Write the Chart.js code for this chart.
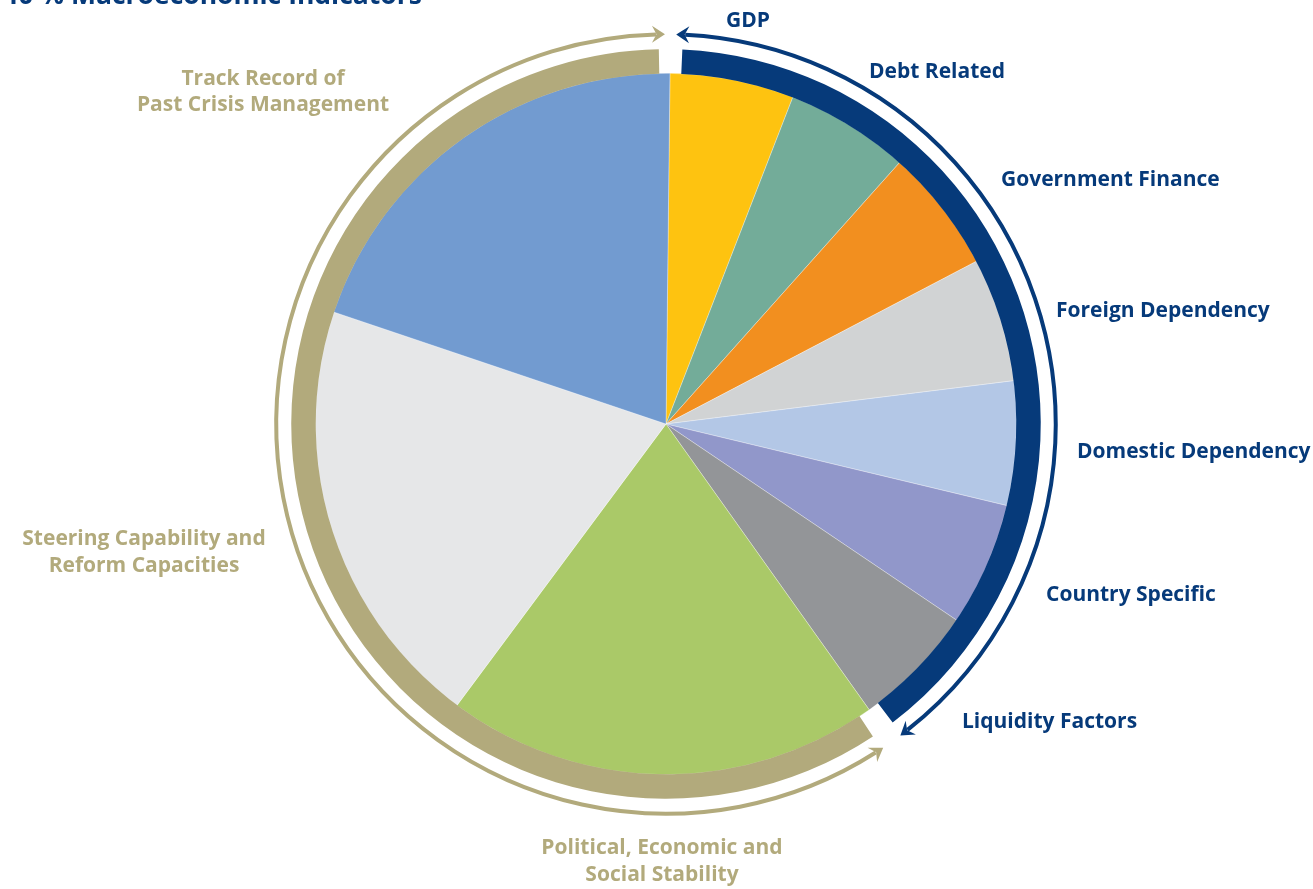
<!DOCTYPE html>
<html>
<head>
<meta charset="utf-8">
<script src="https://cdn.jsdelivr.net/npm/chart.js@4.4.1/dist/chart.umd.min.js"></script>
<style>
  html, body { margin: 0; padding: 0; background: #fff; }
  #wrap { width: 1313px; height: 889px; }
</style>
</head>
<body>
<div id="wrap"><canvas id="pieChart" width="1313" height="889"></canvas></div>
<script>
// ===== DATA =====
const categories = [
  "GDP", "Debt Related", "Government Finance", "Foreign Dependency",
  "Domestic Dependency", "Country Specific", "Liquidity Factors",
  "Political, Economic and Social Stability",
  "Steering Capability and Reform Capacities",
  "Track Record of Past Crisis Management"
];
const weights = [5.71, 5.71, 5.71, 5.71, 5.71, 5.71, 5.71, 20, 20, 20];
const sliceColors = [
  "#fec310", "#73ac99", "#f28f1f", "#d1d3d4", "#b3c7e6",
  "#9197ca", "#939598", "#aac968", "#e6e7e8", "#729bd0"
];
const macroCount = 7; // first 7 slices are the macroeconomic block
const titleText = "40 % Macroeconomic Indicators";

const NAVY = "#063a7a";
const TAN = "#b2aa7c";
const FONT = "bold 21px 'Open Sans', sans-serif";

// label lines + where they sit (x, baseline)
const macroLabels = [
  ["GDP", 726, 26.5],
  ["Debt Related", 869, 77.5],
  ["Government Finance", 1001, 185.5],
  ["Foreign Dependency", 1056, 316.5],
  ["Domestic Dependency", 1077, 458],
  ["Country Specific", 1046, 601],
  ["Liquidity Factors", 962, 728]
];
const otherLabels = [
  [["Track Record of", "Past Crisis Management"], 263, 84.5],
  [["Steering Capability and", "Reform Capacities"], 144, 545],
  [["Political, Economic and", "Social Stability"], 662, 854]
];

const deg = Math.PI / 180;

function band(ctx, x, y, r0, r1, a0, a1, color) {
  ctx.beginPath();
  ctx.arc(x, y, r1, a0, a1);
  ctx.arc(x, y, r0, a1, a0, true);
  ctx.closePath();
  ctx.fillStyle = color;
  ctx.fill();
}

// arrowhead with tip at angle a on radius R; dir = +1 clockwise, -1 counter
function arrowHead(ctx, x, y, R, a, dir, color) {
  const tx = x + R * Math.cos(a), ty = y + R * Math.sin(a);
  const dx = -Math.sin(a) * dir, dy = Math.cos(a) * dir;
  const nx = Math.cos(a), ny = Math.sin(a);
  const L = 13, W = 8.5, notch = 4.5;
  const bx = tx - dx * L, by = ty - dy * L;
  ctx.beginPath();
  ctx.moveTo(tx, ty);
  ctx.lineTo(bx + nx * W, by + ny * W);
  ctx.lineTo(tx - dx * (L - notch), ty - dy * (L - notch));
  ctx.lineTo(bx - nx * W, by - ny * W);
  ctx.closePath();
  ctx.fillStyle = color;
  ctx.fill();
}

function arrowArc(ctx, x, y, R, a0, a1, color) {
  const back = 9 / R;
  ctx.beginPath();
  ctx.arc(x, y, R, a0 + back, a1 - back);
  ctx.strokeStyle = color;
  ctx.lineWidth = 4;
  ctx.lineCap = "butt";
  ctx.stroke();
  arrowHead(ctx, x, y, R, a0, -1, color);
  arrowHead(ctx, x, y, R, a1, 1, color);
}

const ringPlugin = {
  id: "rings",
  afterDatasetsDraw(chart) {
    const arcs = chart.getDatasetMeta(0).data;
    const { x, y, outerRadius: r } = arcs[0];
    const ctx = chart.ctx;
    const b0 = arcs[0].startAngle;
    const b1 = arcs[macroCount - 1].endAngle;
    const b2 = arcs[arcs.length - 1].endAngle;
    ctx.save();
    band(ctx, x, y, r - 0.5, r + 24, b0 + 1.85 * deg, b1 - 1.8 * deg, NAVY);
    band(ctx, x, y, r - 0.5, r + 24, b1 + 1.9 * deg, b2 - 1.75 * deg, TAN);
    arrowArc(ctx, x, y, r + 39, b0 + 0.85 * deg, b1 - 1.55 * deg, NAVY);
    arrowArc(ctx, x, y, r + 39, b1 + 1.55 * deg, b2 - 0.8 * deg, TAN);

    ctx.font = FONT;
    ctx.textBaseline = "alphabetic";
    ctx.fillStyle = NAVY;
    ctx.textAlign = "left";
    macroLabels.forEach(([t, lx, ly]) => ctx.fillText(t, lx, ly));
    ctx.fillStyle = TAN;
    ctx.textAlign = "center";
    otherLabels.forEach(([lines, lx, ly]) => {
      lines.forEach((t, i) => ctx.fillText(t, lx, ly + i * 26.5));
    });

    // title, cut by the top edge as in the source
    ctx.font = "bold 26.5px 'Open Sans', sans-serif";
    ctx.fillStyle = NAVY;
    ctx.textAlign = "left";
    ctx.fillText(titleText, 3, 4);
    ctx.restore();
  }
};

new Chart(document.getElementById("pieChart"), {
  type: "pie",
  data: {
    labels: categories,
    datasets: [{
      data: weights,
      backgroundColor: sliceColors,
      borderColor: "rgba(255,255,255,0.6)",
      borderWidth: 0.5
    }]
  },
  options: {
    responsive: false,
    animation: false,
    rotation: 0.65,
    layout: { padding: { left: 315, right: 296, top: 73, bottom: 114 } },
    plugins: {
      legend: { display: false },
      tooltip: { enabled: false }
    }
  },
  plugins: [ringPlugin]
});
</script>
</body>
</html>
